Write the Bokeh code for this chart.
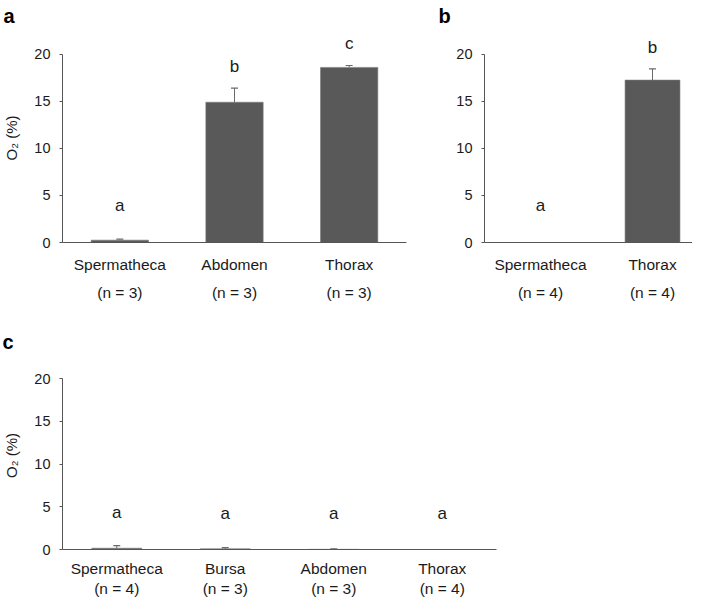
from bokeh.plotting import figure
from bokeh.models import (ColumnDataSource, Range1d, Whisker, TeeHead, LinearAxis, FixedTicker)
from bokeh.layouts import column, row
from bokeh.embed import file_html
from bokeh.resources import INLINE
from bokeh.core.properties import value

# ---------------- data ----------------
a_tissues = ["Spermatheca", "Abdomen", "Thorax"]
a_n = [3, 3, 3]
a_mean = [0.25, 14.9, 18.6]
a_err = [0.1, 1.5, 0.2]
a_letters = ["a", "b", "c"]

b_tissues = ["Spermatheca", "Thorax"]
b_n = [4, 4]
b_mean = [0.0, 17.25]
b_err = [0.0, 1.2]
b_letters = ["a", "b"]

c_tissues = ["Spermatheca", "Bursa", "Abdomen", "Thorax"]
c_n = [4, 3, 3, 4]
c_mean = [0.15, 0.08, 0.02, 0.0]
c_err = [0.3, 0.15, 0.06, 0.0]
c_letters = ["a", "a", "a", "a"]

y_ticks = [0, 5, 10, 15, 20]
y_label = "O\u2082 (%)"
panel_names = ["a", "b", "c"]

# ---------------- style ----------------
FONT = "Liberation Sans"
TXT = "#1a1a1a"
AX = "#555555"
BAR = "#595959"
ERR = "#6a6a6a"


def panel(tissues, n, mean, err, letters, name, width, height, bl, br, bt, bb,
          x_end, y_end, bar_w, letter_gap, letter_floor, ylab, sd1, sd2,
          title_offset, title_standoff, title_valign):
    xs = [i + 0.5 for i in range(len(tissues))]
    upper = [m + e for m, e in zip(mean, err)]
    ly = [max(u + letter_gap, letter_floor) for u in upper]
    src = ColumnDataSource(dict(x=xs, top=mean, letter=letters, ly=ly))
    p = figure(x_range=Range1d(0, x_end), y_range=Range1d(0, y_end),
               width=width, height=height, output_backend="svg", toolbar_location=None,
               min_border_left=bl, min_border_right=br, min_border_top=bt, min_border_bottom=bb)
    p.outline_line_color = None
    p.xgrid.visible = False
    p.ygrid.visible = False
    p.background_fill_color = "white"
    p.border_fill_color = "white"

    p.vbar(x="x", top="top", width=bar_w, source=src, fill_color=BAR, line_color="#7a7a7a",
           line_width=0.6)

    wx = [x for x, e in zip(xs, err) if e > 0]
    wl = [m for m, e in zip(mean, err) if e > 0]
    wu = [m + e for m, e in zip(mean, err) if e > 0]
    wsrc = ColumnDataSource(dict(x=wx, lower=wl, upper=wu))
    p.add_layout(Whisker(source=wsrc, base="x", lower="lower", upper="upper", dimension="height",
                         line_color=ERR, line_width=1,
                         upper_head=TeeHead(size=7, line_color=ERR, line_width=1.2),
                         lower_head=None))

    p.text(x="x", y="ly", text="letter", source=src, text_font=value(FONT),
           text_font_size="17px", text_align="center", text_baseline="middle", text_color=TXT)

    # y axis
    ya = p.yaxis[0]
    ya.ticker = FixedTicker(ticks=y_ticks)
    ya.bounds = (0, 20)
    ya.minor_tick_line_color = None
    ya.major_tick_out = 3
    ya.major_tick_in = 0
    ya.axis_line_color = AX
    ya.major_tick_line_color = AX
    ya.major_label_text_font = FONT
    ya.major_label_text_font_size = "14.5px"
    ya.major_label_text_color = TXT
    ya.major_label_standoff = 9
    if ylab:
        ya.axis_label = ylab
        ya.axis_label_text_font = FONT
        ya.axis_label_text_font_size = "15px"
        ya.axis_label_text_font_style = "normal"
        ya.axis_label_text_color = TXT
        ya.axis_label_standoff = 11

    # x axis: tissue names
    xa = p.xaxis[0]
    xa.ticker = FixedTicker(ticks=xs)
    xa.major_label_overrides = {x: t for x, t in zip(xs, tissues)}
    xa.axis_line_color = AX
    xa.major_tick_line_color = None
    xa.minor_tick_line_color = None
    xa.major_tick_out = 0
    xa.major_tick_in = 0
    xa.major_label_text_font = FONT
    xa.major_label_text_font_size = "15.5px"
    xa.major_label_text_color = TXT
    xa.major_label_standoff = sd1

    # second x axis: sample sizes
    xa2 = LinearAxis(
        ticker=FixedTicker(ticks=xs),
        major_label_overrides={x: "(n = %d)" % k for x, k in zip(xs, n)},
        axis_line_color=None, major_tick_line_color=None, minor_tick_line_color=None,
        major_tick_out=0, major_tick_in=0,
        major_label_text_font=FONT, major_label_text_font_size="15.5px",
        major_label_text_color=TXT, major_label_standoff=sd2)
    p.add_layout(xa2, "below")

    p.title.text = name
    p.title.text_font = FONT
    p.title.text_font_size = "20px"
    p.title.text_font_style = "bold"
    p.title.text_color = "#000000"
    p.title.align = "left"
    p.title.vertical_align = title_valign
    p.title.offset = title_offset
    p.title.standoff = title_standoff
    return p


pa = panel(a_tissues, a_n, a_mean, a_err, a_letters, panel_names[0], 430, 303, 61, 24, 32, 61,
           3, 22.2, 0.5, 2.3, 3.9, y_label, 13, 8, -59, 9, "top")
pb = panel(b_tissues, b_n, b_mean, b_err, b_letters, panel_names[1], 262, 303, 54, 0, 32, 61,
           1.857, 22.2, 0.49, 2.3, 3.9, None, 13, 8, -46, 9, "top")
pc = panel(c_tissues, c_n, c_mean, c_err, c_letters, panel_names[2], 692, 296, 62, 196, 58, 49,
           4, 22, 0.46, 3.9, 4.2, y_label, 10, 0, -60, 14, "top")

layout = column(row(pa, pb), pc)
open("out.html", "w").write(file_html(layout, INLINE))
